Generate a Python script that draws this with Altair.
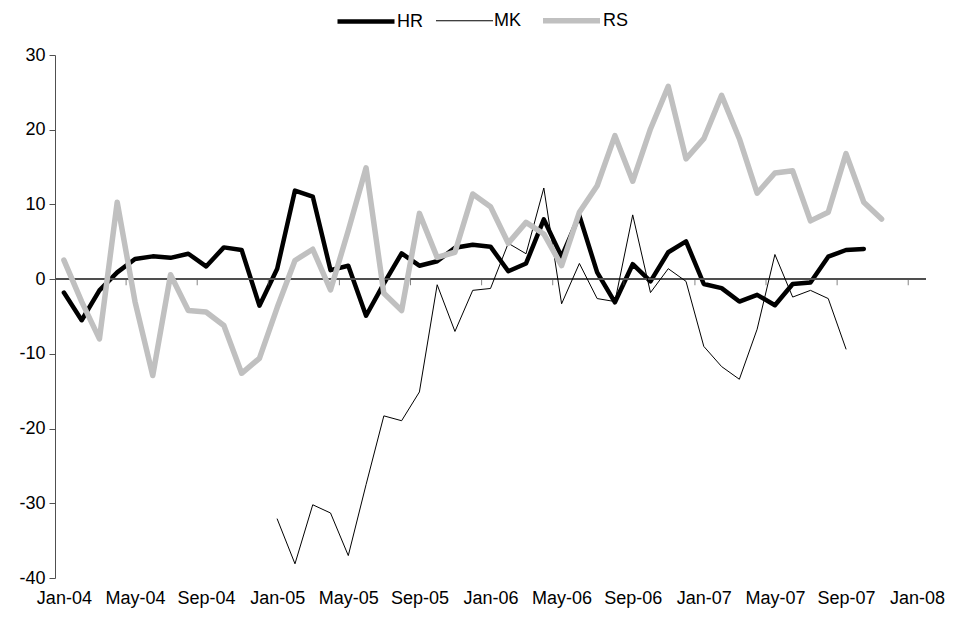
import altair as alt
import pandas as pd

SERIES = ["HR", "MK", "RS"]
X_LABELS = ["Jan-04", "May-04", "Sep-04", "Jan-05", "May-05", "Sep-05", "Jan-06",
            "May-06", "Sep-06", "Jan-07", "May-07", "Sep-07", "Jan-08"]

# month index 0 = Jan-04
HR_START = 0
HR = [-1.8, -5.5, -1.5, 0.9, 2.7, 3.05, 2.85, 3.4, 1.7, 4.25, 3.9, -3.55,
      1.4, 11.85, 11.05, 1.2, 1.8, -4.9, -0.6, 3.45, 1.8, 2.4, 4.2, 4.6,
      4.35, 1.05, 2.1, 8.0, 3.0, 8.5, 0.9, -3.1, 2.0, -0.3, 3.6, 5.05,
      -0.65, -1.2, -3.0, -2.1, -3.5, -0.65, -0.45, 3.0, 3.9, 4.05]

MK_START = 12
MK = [-32.1, -38.1, -30.2, -31.3, -37.0, -27.5, -18.3, -18.95, -15.1, -0.75, -7.0, -1.5,
      -1.25, 4.8, 3.4, 12.2, -3.3, 2.1, -2.6, -3.0, 8.6, -1.8, 1.4, -0.3,
      -9.0, -11.7, -13.4, -6.7, 3.3, -2.4, -1.5, -2.6, -9.35]

RS_START = 0
RS = [2.55, -3.0, -8.0, 10.3, -3.0, -12.9, 0.6, -4.2, -4.4, -6.2, -12.6, -10.6,
      -3.8, 2.5, 4.0, -1.45, 6.5, 14.9, -1.9, -4.2, 8.8, 2.9, 3.6, 11.4,
      9.7, 4.8, 7.6, 6.05, 1.8, 8.95, 12.5, 19.2, 13.1, 20.1, 25.8, 16.1,
      18.8, 24.6, 18.8, 11.5, 14.2, 14.5, 7.8, 8.95, 16.8, 10.3, 8.05]

rows = []
for name, start, vals in [("HR", HR_START, HR), ("MK", MK_START, MK), ("RS", RS_START, RS)]:
    for k, v in enumerate(vals):
        rows.append({"series": name, "m": start + k, "v": v})
df = pd.DataFrame(rows)

TICKS = [3.5 + 4 * k for k in range(12)]
tick_df = pd.DataFrame({"m": TICKS})

FONT = "Liberation Sans"
FS = 18
AXIS_COL = "#505050"
WIDTHS = [4.5, 1.0, 5.5]

label_arr = "[" + ",".join("'" + s + "'" for s in X_LABELS) + "]"

xscale = alt.Scale(domain=[-0.5, 48.5], nice=False, zero=False)
yscale = alt.Scale(domain=[-40, 30], nice=False)

leg = alt.Legend(title=None, orient="none", legendX=280, legendY=-66,
                 direction="horizontal", symbolType="stroke", symbolSize=3250,
                 labelFontSize=FS, labelFont=FONT, labelColor="#000000",
                 columnPadding=10, labelOffset=0)
color = alt.Color("series:N", scale=alt.Scale(domain=SERIES, range=["#000000", "#000000", "#c0c0c0"]),
                  legend=leg)
width = alt.StrokeWidth("series:O", scale=alt.Scale(type="ordinal", domain=SERIES, range=WIDTHS),
                        legend=leg)

x_enc = alt.X("m:Q", scale=xscale,
              axis=alt.Axis(values=list(range(0, 49, 4)), labelExpr=label_arr + "[datum.value/4]",
                            domain=False, ticks=False, grid=False, title=None,
                            labelFontSize=FS, labelFont=FONT, labelColor="#000000",
                            labelPadding=11, labelFlush=False, labelOverlap=False))
y_enc = alt.Y("v:Q", scale=yscale,
              axis=alt.Axis(values=list(range(-40, 31, 10)), grid=False, title=None,
                            labelExpr="'' + datum.value",
                            domainColor=AXIS_COL, tickColor=AXIS_COL, tickSize=6,
                            labelFontSize=FS, labelFont=FONT, labelColor="#000000",
                            labelPadding=4))

base = alt.Chart(df)

zero = alt.Chart(tick_df).mark_rule(color=AXIS_COL, strokeWidth=1).encode(y=alt.datum(0))
ticks = alt.Chart(tick_df).mark_tick(orient="vertical", size=6, thickness=1, color=AXIS_COL, yOffset=3).encode(
    x=x_enc, y=alt.datum(0))

layers = []
for s in SERIES:
    layers.append(
        base.transform_filter(alt.datum.series == s).mark_line(strokeJoin="round", strokeCap="round").encode(
            x=x_enc, y=y_enc, color=color, strokeWidth=width)
    )

chart = alt.layer(*layers[:1], zero, ticks, *layers[1:]).properties(
    width=871, height=523,
    padding={"left": 47, "top": 47, "right": 20, "bottom": 37},
    autosize=alt.AutoSizeParams(type="none"),
).configure(font=FONT).configure_view(stroke=None)

chart.save("out.html", embed_options={"renderer": "svg", "actions": False})
